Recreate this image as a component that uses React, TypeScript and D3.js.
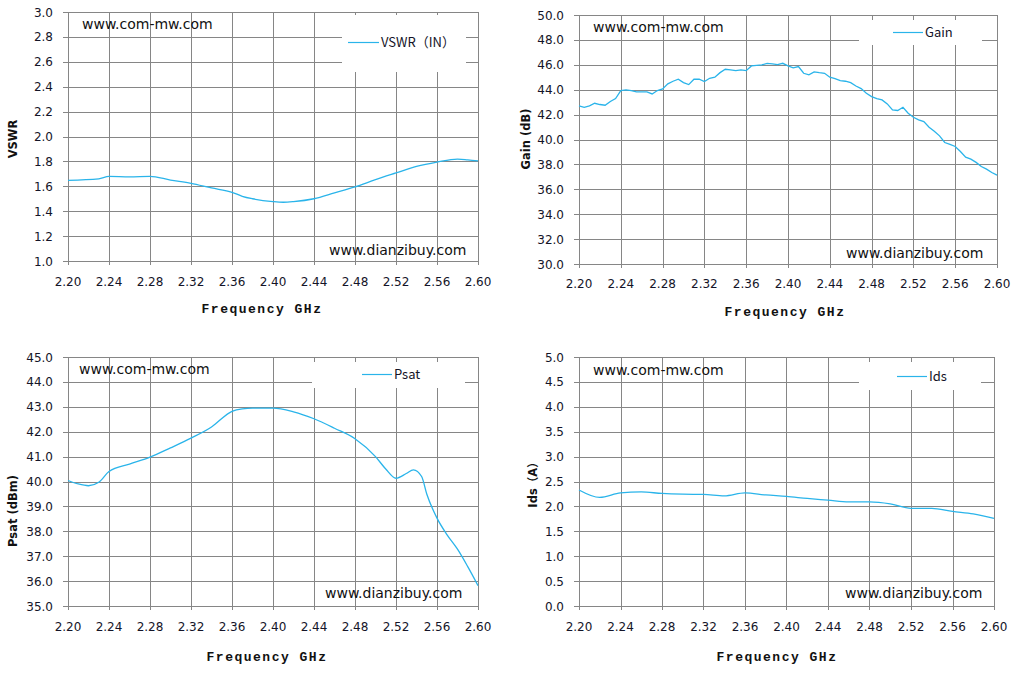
import { useEffect, useRef } from 'react';
import * as d3 from 'd3';

// frequency ticks shared by all four panels (GHz)
const freqTicks = [2.2, 2.24, 2.28, 2.32, 2.36, 2.4, 2.44, 2.48, 2.52, 2.56, 2.6];

// VSWR (IN)
const vswrFreq = [2.2, 2.23, 2.24, 2.26, 2.28, 2.3, 2.32, 2.34, 2.36, 2.37, 2.38, 2.4, 2.41, 2.42, 2.44, 2.46, 2.48, 2.5, 2.52, 2.54, 2.56, 2.58, 2.59, 2.6];
const vswrValues = [1.648, 1.66, 1.68, 1.675, 1.68, 1.65, 1.624, 1.587, 1.552, 1.52, 1.5, 1.477, 1.472, 1.477, 1.5, 1.547, 1.595, 1.653, 1.707, 1.76, 1.795, 1.819, 1.813, 1.805];
const vswrTicks = [1.0, 1.2, 1.4, 1.6, 1.8, 2.0, 2.2, 2.4, 2.6, 2.8, 3.0];

// Gain (dB), noisy trace
const gainFreq = [
  2.2, 2.205, 2.21, 2.215, 2.22, 2.225, 2.23, 2.235, 2.24, 2.245, 2.25, 2.255, 2.26, 2.265, 2.27, 2.275, 2.28,
  2.285, 2.29, 2.295, 2.3, 2.305, 2.31, 2.315, 2.32, 2.325, 2.33, 2.335, 2.34, 2.345, 2.35, 2.355, 2.36,
  2.365, 2.37, 2.375, 2.38, 2.385, 2.39, 2.395, 2.4, 2.405, 2.41, 2.415, 2.42, 2.425, 2.43, 2.435, 2.44,
  2.445, 2.45, 2.455, 2.46, 2.465, 2.47, 2.475, 2.48, 2.485, 2.49, 2.495, 2.5, 2.505, 2.51, 2.515, 2.52,
  2.525, 2.53, 2.535, 2.54, 2.545, 2.55, 2.555, 2.56, 2.565, 2.57, 2.575, 2.58, 2.585, 2.59, 2.595, 2.6,
];
const gainValues = [
  42.7, 42.59, 42.7, 42.91, 42.81, 42.75, 43.05, 43.29, 43.93, 43.98, 43.93, 43.82, 43.82, 43.82, 43.66, 43.93, 44.06,
  44.47, 44.68, 44.84, 44.57, 44.41, 44.84, 44.84, 44.65, 44.92, 45.0, 45.37, 45.64, 45.59, 45.53, 45.59, 45.53,
  45.91, 45.96, 45.99, 46.12, 46.07, 46.02, 46.12, 45.91, 45.75, 45.86, 45.32, 45.19, 45.43, 45.37, 45.32, 45.0,
  44.89, 44.73, 44.68, 44.57, 44.3, 44.09, 43.72, 43.45, 43.29, 43.18, 42.86, 42.38, 42.33, 42.59, 42.11, 41.79,
  41.58, 41.44, 40.99, 40.67, 40.29, 39.76, 39.6, 39.44, 39.04, 38.58, 38.42, 38.16, 37.83, 37.62, 37.35, 37.14,
];
const gainTicks = [30, 32, 34, 36, 38, 40, 42, 44, 46, 48, 50];

// Psat (dBm)
const psatFreq = [2.2, 2.21, 2.22, 2.23, 2.24, 2.26, 2.28, 2.3, 2.32, 2.34, 2.36, 2.37, 2.38, 2.4, 2.42, 2.44, 2.46, 2.48, 2.5, 2.51, 2.52, 2.53, 2.537, 2.545, 2.55, 2.56, 2.57, 2.58, 2.59, 2.6];
const psatValues = [40.04, 39.9, 39.83, 39.97, 40.4, 40.7, 40.98, 41.35, 41.74, 42.19, 42.82, 42.92, 42.95, 42.95, 42.8, 42.52, 42.14, 41.72, 41.0, 40.5, 40.13, 40.32, 40.47, 40.2, 39.5, 38.53, 37.85, 37.28, 36.58, 35.82];
const psatTicks = [35, 36, 37, 38, 39, 40, 41, 42, 43, 44, 45];

// Ids (A)
const idsFreq = [2.2, 2.22, 2.24, 2.26, 2.28, 2.3, 2.32, 2.34, 2.36, 2.38, 2.4, 2.42, 2.44, 2.46, 2.48, 2.5, 2.52, 2.54, 2.56, 2.58, 2.6];
const idsValues = [2.33, 2.18, 2.27, 2.29, 2.26, 2.245, 2.24, 2.21, 2.27, 2.23, 2.2, 2.16, 2.125, 2.09, 2.09, 2.05, 1.96, 1.96, 1.9, 1.85, 1.76];
const idsTicks = [0, 0.5, 1.0, 1.5, 2.0, 2.5, 3.0, 3.5, 4.0, 4.5, 5.0];

const LINE = '#2ab4ea';
const GRID = '#868686';
const TEXT = '#141428';

interface PanelCfg {
  left: number;
  right: number;
  top: number;
  bottom: number;
  xs: number[];
  ys: number[];
  yTicks: number[];
  smooth: boolean;
  yTitle: string;
  yTitleX: number;
  yTitleY: number;
  xTitleX: number;
  xTitleY: number;
  tickY: number;
  legend: string;
  legendBox: [number, number, number, number];
  legendLine: [number, number, number];
  mark1: [number, number];
  mark2: [number, number];
}

const panels: PanelCfg[] = [
  {
    left: 68, right: 478, top: 12, bottom: 261,
    xs: vswrFreq, ys: vswrValues, yTicks: vswrTicks, smooth: true,
    yTitle: 'VSWR', yTitleX: 16.5, yTitleY: 139,
    xTitleX: 262, xTitleY: 313, tickY: 286,
    legend: 'VSWR（IN）', legendBox: [342, 15, 466, 72], legendLine: [348, 379, 42.5],
    mark1: [82, 29], mark2: [329, 255],
  },
  {
    left: 579, right: 997, top: 15, bottom: 264,
    xs: gainFreq, ys: gainValues, yTicks: gainTicks, smooth: false,
    yTitle: 'Gain (dB)', yTitleX: 530, yTitleY: 139,
    xTitleX: 785, xTitleY: 316, tickY: 288,
    legend: 'Gain', legendBox: [859, 20, 982, 45], legendLine: [893, 923, 32.5],
    mark1: [593, 32], mark2: [846, 258],
  },
  {
    left: 68, right: 478, top: 357, bottom: 606,
    xs: psatFreq, ys: psatValues, yTicks: psatTicks, smooth: true,
    yTitle: 'Psat (dBm)', yTitleX: 17, yTitleY: 511,
    xTitleX: 267, xTitleY: 661, tickY: 631,
    legend: 'Psat', legendBox: [312, 362, 465, 388], legendLine: [362, 392, 374.5],
    mark1: [79, 374], mark2: [325, 598],
  },
  {
    left: 579, right: 994, top: 357, bottom: 606,
    xs: idsFreq, ys: idsValues, yTicks: idsTicks, smooth: true,
    yTitle: 'Ids（A）', yTitleX: 537, yTitleY: 482,
    xTitleX: 777, xTitleY: 661, tickY: 631,
    legend: 'Ids', legendBox: [859, 362, 981, 390], legendLine: [897, 927, 376.5],
    mark1: [593, 375], mark2: [845, 598],
  },
];

function drawPanel(root: d3.Selection<SVGGElement, unknown, null, undefined>, p: PanelCfg) {
  const x = d3.scaleLinear().domain([2.2, 2.6]).range([p.left, p.right]);
  const y = d3.scaleLinear().domain([p.yTicks[0], p.yTicks[p.yTicks.length - 1]]).range([p.bottom, p.top]);
  const g = root.append('g');
  const yFmt = d3.format('.1f');
  const xFmt = d3.format('.2f');

  // grid
  g.append('g')
    .selectAll('line')
    .data(p.yTicks)
    .join('line')
    .attr('x1', p.left - 5)
    .attr('x2', p.right)
    .attr('y1', (d) => Math.round(y(d)) + 0.5)
    .attr('y2', (d) => Math.round(y(d)) + 0.5)
    .attr('stroke', GRID);
  g.append('g')
    .selectAll('line')
    .data(freqTicks)
    .join('line')
    .attr('x1', (d) => Math.round(x(d)) + 0.5)
    .attr('x2', (d) => Math.round(x(d)) + 0.5)
    .attr('y1', p.top)
    .attr('y2', p.bottom + 4)
    .attr('stroke', GRID);

  // legend box covers the grid
  const [bx0, by0, bx1, by1] = p.legendBox;
  g.append('rect')
    .attr('x', bx0)
    .attr('y', by0)
    .attr('width', bx1 - bx0)
    .attr('height', by1 - by0)
    .attr('fill', '#fff');
  const [lx0, lx1, ly] = p.legendLine;
  g.append('line')
    .attr('x1', lx0)
    .attr('x2', lx1)
    .attr('y1', ly)
    .attr('y2', ly)
    .attr('stroke', LINE)
    .attr('stroke-width', 1.2);
  g.append('text')
    .attr('x', lx1 + 2)
    .attr('y', ly + 4.5)
    .attr('fill', TEXT)
    .attr('font-family', 'Noto Sans CJK SC, DejaVu Sans, sans-serif')
    .attr('font-size', 13)
    .text(p.legend);

  // tick labels
  g.append('g')
    .selectAll('text')
    .data(p.yTicks)
    .join('text')
    .attr('x', p.left - 15)
    .attr('y', (d) => y(d) + 4.5)
    .attr('text-anchor', 'end')
    .attr('fill', TEXT)
    .attr('font-family', 'DejaVu Sans, sans-serif')
    .attr('font-size', 12)
    .text((d) => yFmt(d));
  g.append('g')
    .selectAll('text')
    .data(freqTicks)
    .join('text')
    .attr('x', (d) => x(d))
    .attr('y', p.tickY)
    .attr('text-anchor', 'middle')
    .attr('fill', TEXT)
    .attr('font-family', 'DejaVu Sans, sans-serif')
    .attr('font-size', 12)
    .text((d) => xFmt(d));

  // axis titles
  g.append('text')
    .attr('x', p.xTitleX)
    .attr('y', p.xTitleY)
    .attr('text-anchor', 'middle')
    .attr('fill', '#111')
    .attr('font-family', 'Liberation Mono, monospace')
    .attr('font-weight', 'bold')
    .attr('font-size', 13)
    .attr('letter-spacing', 1.5)
    .text('Frequency GHz');
  g.append('text')
    .attr('transform', `translate(${p.yTitleX},${p.yTitleY}) rotate(-90)`)
    .attr('text-anchor', 'middle')
    .attr('fill', '#111')
    .attr('font-family', 'DejaVu Sans, Noto Sans CJK SC, sans-serif')
    .attr('font-weight', 'bold')
    .attr('font-size', 11.5)
    .text(p.yTitle);

  // watermarks
  g.append('text')
    .attr('x', p.mark1[0])
    .attr('y', p.mark1[1])
    .attr('fill', '#111')
    .attr('font-family', 'DejaVu Sans, sans-serif')
    .attr('font-size', 14)
    .text('www.com-mw.com');
  g.append('text')
    .attr('x', p.mark2[0])
    .attr('y', p.mark2[1])
    .attr('fill', '#111')
    .attr('font-family', 'DejaVu Sans, sans-serif')
    .attr('font-size', 14)
    .text('www.dianzibuy.com');

  // data line
  const pts = p.xs.map((f, i) => [f, p.ys[i]] as [number, number]);
  const line = d3
    .line<[number, number]>()
    .x((d) => x(d[0]))
    .y((d) => y(d[1]))
    .curve(p.smooth ? d3.curveMonotoneX : d3.curveLinear);
  g.append('path')
    .datum(pts)
    .attr('fill', 'none')
    .attr('stroke', LINE)
    .attr('stroke-width', 1.3)
    .attr('d', line);
}

export default function App() {
  const svgRef = useRef<SVGSVGElement>(null);

  useEffect(() => {
    if (!svgRef.current) return;
    const svg = d3.select(svgRef.current);
    svg.selectAll('*').remove();
    const root = svg.append('g');
    panels.forEach((p) => drawPanel(root, p));
  }, []);

  return (
    <svg
      ref={svgRef}
      width={1022}
      height={676}
      style={{ position: 'absolute', left: 0, top: 0, background: '#fff', display: 'block' }}
    />
  );
}
